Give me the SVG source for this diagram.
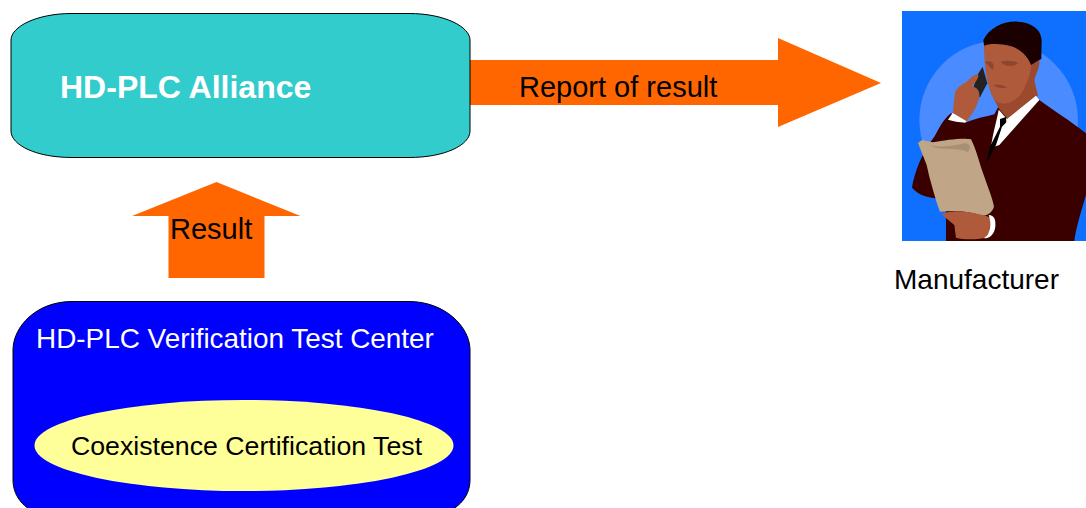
<svg xmlns="http://www.w3.org/2000/svg" width="1086" height="508" viewBox="0 0 1086 508">
<style>
text{font-family:"Liberation Sans",Arial,sans-serif;font-size:29px;fill:#000}
.w{fill:#fff}
.arrow{fill:#ff6600}
.box{stroke:#000;stroke-width:1}
</style>
<defs><clipPath id="bg"><rect x="18" y="18" width="552" height="690"/></clipPath></defs>
<rect width="1086" height="508" fill="#fff"/>
<g id="connectors">
<path id="report-arrow" class="arrow" d="M470 60H778V38L881 83L778 127V105H470Z"/>
<path id="result-arrow" class="arrow" d="M168.500 278V216H132L216.500 182L300.500 216H264.500V278Z"/>
<text x="519" y="97">Report of result</text>
<text x="170" y="239">Result</text>
</g>
<g id="alliance">
<path class="box" fill="#33cccc" d="M72 13.500H409C445 13.500 470 27 470 40V131C470 145 445 157.500 409 157.500H72C36 157.500 11 145 11 131V40C11 27 36 13.500 72 13.500Z"/>
<text class="w" x="60" y="98" style="font-weight:bold;font-size:32px">HD-PLC Alliance</text>
</g>
<g id="test-center">
<path class="box" fill="#0000ff" d="M72 301.500H409C445 301.500 470 327 470 350V480C470 497 458 512 430 518H50C25 512 13 497 13 480V350C13 327 36 301.500 72 301.500Z"/>
<text class="w" x="36" y="348" style="font-size:27.900px">HD-PLC Verification Test Center</text>
<g id="coexistence-test">
<ellipse cx="244" cy="445.500" rx="209.500" ry="45.500" fill="#ffff99"/>
<text x="71" y="455" style="font-size:26.700px">Coexistence Certification Test</text>
</g>
</g>
<g id="manufacturer">
<g transform="translate(896 5) scale(.3333)">
<rect x="18" y="18" width="552" height="690" fill="#0f6fff"/>
<g clip-path="url(#bg)">
<circle cx="308" cy="345" r="238" fill="#4a8bff"/>
<path fill="#3a0000" d="M150 708V578C120 582 75 580 48 548C55 500 80 440 115 395C130 370 140 345 165 325L210 352C240 340 270 335 295 328L310 300L430 285C470 315 520 345 570 385V570C555 620 540 670 535 708Z"/>
<path fill="#9c4a2e" d="M395 150L430 165C432 190 420 205 415 225L426 272L335 342L308 310L285 265Z"/>
<path fill="#fff" d="M308 314C316 322 324 332 333 342L420 272L430 285L310 420L285 428C290 385 303 345 308 314Z"/>
<path fill="#b05a3c" d="M264 110L410 120L405 190C400 220 390 235 385 250C375 275 350 292 330 295C310 298 295 290 285 265C275 235 264 190 264 110Z"/>
<path fill="#1a0000" d="M262 105C280 70 320 48 365 50C410 52 435 75 437 105L436 162L428 166L405 180C395 150 365 125 330 120C300 116 280 115 264 122L266 135Z"/>
<path fill="#8f4630" d="M266 170C285 165 300 175 290 195ZM315 170C335 165 355 168 367 175C350 188 325 185 315 170ZM292 240C310 238 325 240 332 248C315 250 300 248 292 240Z"/>
<path fill="#222" d="M260 185L274 235L252 277L229 272L233 245L244 210Z"/>
<path fill="#b05a3c" d="M176 270C178 250 195 240 210 232C225 215 240 205 247 208C250 220 232 240 228 245C245 245 255 262 248 285C240 310 225 335 210 350L170 325Z"/>
<path fill="#fff" d="M170 324L212 349L208 353C190 351 170 349 156 344Z"/>
<path fill="#000" d="M312 342L330 336L331 352L318 365L300 420L270 478L282 425L312 365Z"/>
<path fill="#c0a587" d="M66 414L78 405L110 412C150 405 200 398 225 403C240 430 250 475 265 515C275 545 290 580 294 605C290 620 275 632 260 632C220 618 175 615 132 620C120 590 110 550 100 515L92 480Z"/>
<path fill="#a89072" d="M100 420C130 428 170 425 205 415C225 415 225 430 215 442C195 425 130 440 100 420Z"/>
<path fill="#b05a3c" d="M136 628C165 612 215 618 270 632L285 640L278 695C250 705 205 705 180 698L175 660Z"/>
<path fill="#fff" d="M278 630C295 630 300 645 298 665C295 685 285 700 264 700L275 690C285 670 285 650 278 630Z"/>
</g>
</g>
<text x="894" y="289" style="font-size:28px">Manufacturer</text>
</g>
</svg>
